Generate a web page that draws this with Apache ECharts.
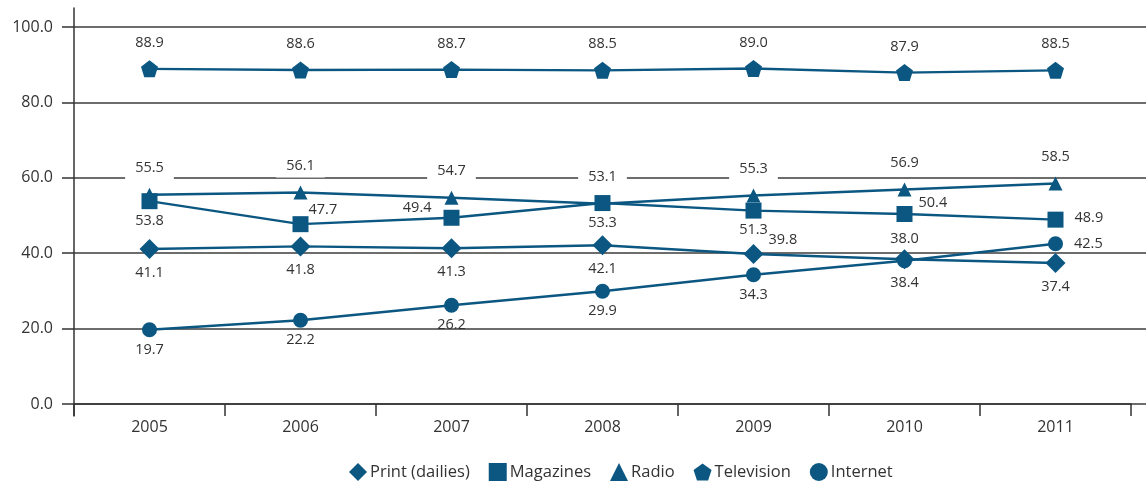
<!DOCTYPE html>
<html><head><meta charset="utf-8">
<script src="https://cdn.jsdelivr.net/npm/echarts@6/dist/echarts.min.js"></script>
<style>html,body{margin:0;padding:0;background:#fff;}#c{width:1146px;height:486px;}</style>
</head><body><div id="c"></div>
<script>
const years = ['2005','2006','2007','2008','2009','2010','2011'];
const yTicks = [0, 20, 40, 60, 80, 100];
const printDailies = [41.1, 41.8, 41.3, 42.1, 39.8, 38.4, 37.4];
const magazines = [53.8, 47.7, 49.4, 53.3, 51.3, 50.4, 48.9];
const radio = [55.5, 56.1, 54.7, 53.1, 55.3, 56.9, 58.5];
const television = [88.9, 88.6, 88.7, 88.5, 89.0, 87.9, 88.5];
const internet = [19.7, 22.2, 26.2, 29.9, 34.3, 38.0, 42.5];

const COLOR = '#0b5782';
const FONT = 'Open Sans';
const PENTA = 'path://M50,0 L97.6,34.5 L79.4,90.5 L20.6,90.5 L2.4,34.5 Z';

// label placement per point (index -> override)
const labelOverrides = {
  print: {4: {position: 'right', distance: 5, offset: [0, -14]}},
  magazines: {1: {position: 'right', distance: 0, offset: [0, -14]},
              2: {position: 'left', distance: 12, offset: [0, -10]},
              5: {position: 'right', distance: 6, offset: [0, -11]},
              6: {position: 'right', distance: 11, offset: [0, -2]}},
  radio: {},
  television: {},
  internet: {5: {position: 'top', distance: 7},
             6: {position: 'right', distance: 11}}
};

function mk(name, values, symbol, size, pos, dist, key, extraLabel) {
  const ov = labelOverrides[key];
  return {
    name, type: 'line', data: values.map((v, i) => ov[i] ? {value: v, label: ov[i]} : v),
    symbol, symbolSize: size, showAllSymbol: true,
    lineStyle: {color: COLOR, width: 2.4},
    itemStyle: {color: COLOR},
    label: Object.assign({show: true, position: pos, distance: dist, color: '#333',
      fontFamily: FONT, fontSize: 14.5, formatter: p => p.value.toFixed(1)}, extraLabel || {}),
    emphasis: {disabled: true}, z: 3
  };
}

const chart = echarts.init(document.getElementById('c'), null, {renderer: 'canvas'});
chart.setOption({
  animation: false,
  textStyle: {fontFamily: FONT},
  grid: [
    {left: 74, right: 15, top: 27, bottom: 82},
    {left: 74, right: 0, top: 27, bottom: 82},
    {left: 74, right: 0, top: 8, bottom: 70}
  ],
  xAxis: [
    {type: 'category', data: years, gridIndex: 0, boundaryGap: true,
     axisLine: {lineStyle: {color: '#333', width: 1.5}},
     axisTick: {show: true, inside: false, length: 12, lineStyle: {color: '#333', width: 1.5}},
     axisLabel: {color: '#333', fontSize: 16, fontFamily: FONT, margin: 15},
     splitLine: {show: false}, z: 1},
    {type: 'value', gridIndex: 1, show: false, min: 0, max: 1},
    {type: 'value', gridIndex: 2, show: false, min: 0, max: 1}
  ],
  yAxis: [
    {type: 'value', gridIndex: 0, min: yTicks[0], max: yTicks[yTicks.length - 1], interval: 20,
     axisLine: {show: false},
     axisTick: {show: true, length: 12, lineStyle: {color: '#333', width: 1.5}},
     axisLabel: {color: '#333', fontSize: 16, fontFamily: FONT, margin: 21,
       formatter: v => v.toFixed(1)},
     splitLine: {show: false}},
    {type: 'value', gridIndex: 1, min: yTicks[0], max: yTicks[yTicks.length - 1], interval: 20,
     axisLine: {show: false}, axisTick: {show: false}, axisLabel: {show: false},
     splitLine: {show: true, lineStyle: {color: '#3c3c3c', width: 1.5}}, z: 0},
    {type: 'value', gridIndex: 2, min: 0, max: 1,
     axisLine: {show: true, onZero: false, lineStyle: {color: '#333', width: 1.5}},
     axisTick: {show: false}, axisLabel: {show: false}, splitLine: {show: false}}
  ],
  legend: {
    bottom: 0, left: 344, itemWidth: 18, itemHeight: 18, itemGap: 19,
    textStyle: {color: '#333', fontSize: 16.5, fontFamily: FONT, padding: [0, 0, 0, -2]},
    data: [
      {name: 'Print (dailies)', icon: 'diamond'},
      {name: 'Magazines', icon: 'rect'},
      {name: 'Radio', icon: 'triangle'},
      {name: 'Television', icon: PENTA},
      {name: 'Internet', icon: 'circle'}
    ],
    selectedMode: false
  },
  series: [
    mk('Print (dailies)', printDailies, 'diamond', 20, 'bottom', 6, 'print'),
    mk('Magazines', magazines, 'rect', 16, 'bottom', 4, 'magazines'),
    mk('Radio', radio, 'triangle', 14, 'top', 8, 'radio',
       {backgroundColor: '#fff', padding: [4, 10]}),
    mk('Television', television, PENTA, 17, 'top', 10, 'television'),
    mk('Internet', internet, 'circle', 15, 'bottom', 5, 'internet')
  ]
});
</script></body></html>
